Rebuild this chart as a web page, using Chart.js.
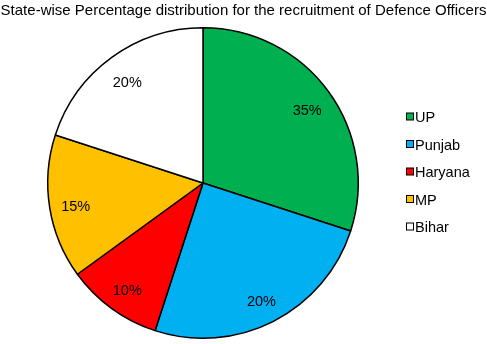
<!DOCTYPE html>
<html>
<head>
<meta charset="utf-8">
<script src="https://cdn.jsdelivr.net/npm/chart.js@4/dist/chart.umd.min.js"></script>
<style>
  html, body { margin: 0; padding: 0; background: #fff; }
  #wrap { width: 487px; height: 344px; }
</style>
</head>
<body>
<div id="wrap"><canvas id="grafico"></canvas></div>
<script>
const titulo = 'State-wise Percentage distribution for the recruitment of Defence Officers';
const estados = ['UP', 'Punjab', 'Haryana', 'MP', 'Bihar'];
// slice sizes as drawn in the picture (the printed labels do not match them)
const fatias = [30, 25, 10, 15, 20];
const rotulos = ['35%', '20%', '10%', '15%', '20%'];
const cores = ['#00B050', '#00B0F0', '#FF0000', '#FFC000', '#FFFFFF'];

const fonte = '"Liberation Sans", Arial, sans-serif';

// title, legend and slice labels drawn by hand
const extras = {
    id: 'extras',
    afterDraw(chart) {
        const c = chart.ctx;
        c.save();
        c.fillStyle = '#000';
        c.font = '15px ' + fonte;
        c.textAlign = 'center';
        c.textBaseline = 'middle';
        c.fillText(titulo, chart.width / 2, 11);

        const arcos = chart.getDatasetMeta(0).data;
        c.font = '14.5px ' + fonte;
        arcos.forEach((a, i) => {
            const meio = (a.startAngle + a.endAngle) / 2;
            const r = a.outerRadius * 0.83;
            c.fillText(rotulos[i], a.x + Math.cos(meio) * r, a.y + Math.sin(meio) * r + 4);
        });

        c.textAlign = 'left';
        c.font = '14.5px ' + fonte;
        estados.forEach((nome, i) => {
            const y = 117.5 + i * 27.5;
            c.fillStyle = cores[i];
            c.fillRect(406.5, y - 4.5, 7, 7);
            c.strokeStyle = '#000';
            c.lineWidth = 1;
            c.strokeRect(406.5, y - 4.5, 7, 7);
            c.fillStyle = '#000';
            c.fillText(nome, 415, y + 0.5);
        });
        c.restore();
    }
};

new Chart(document.getElementById('grafico'), {
    type: 'pie',
    data: {
        labels: estados,
        datasets: [{
            data: fatias,
            backgroundColor: cores,
            borderColor: '#000',
            borderWidth: 1.5
        }]
    },
    options: {
        responsive: true,
        maintainAspectRatio: false,
        animation: false,
        layout: { padding: { top: 27, right: 81, bottom: 5, left: 0 } },
        plugins: {
            legend: { display: false },
            title: { display: false },
            tooltip: { enabled: false }
        }
    },
    plugins: [extras]
});
</script>
</body>
</html>
